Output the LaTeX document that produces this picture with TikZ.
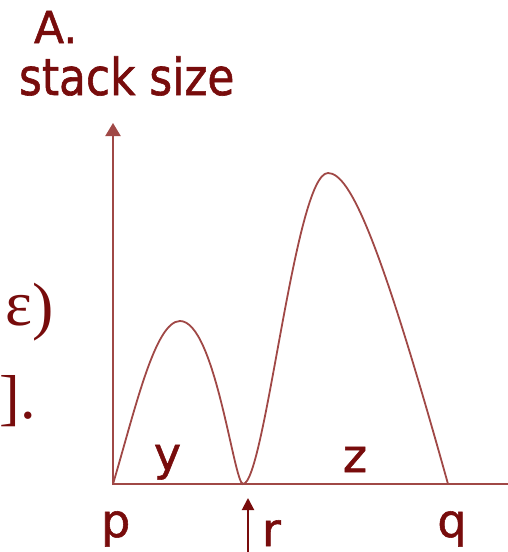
\documentclass[tikz,border=0pt]{standalone}
\usepackage{fontspec}
\setmainfont[FakeBold=1.2]{DejaVu Sans}
\newfontfamily\serifgr{Liberation Serif}
\usetikzlibrary{arrows.meta}
\definecolor{axiscol}{RGB}{160,72,70}
\definecolor{txtcol}{RGB}{120,12,12}
\tikzset{
  lbl/.style={inner sep=0pt, outer sep=0pt, text=txtcol, anchor=base, font=\fontsize{46}{46}\selectfont},
  axisline/.style={draw=axiscol, line width=2pt},
  curveline/.style={draw=axiscol, line width=1.8pt}
}
\begin{document}
\begin{tikzpicture}[x=1pt,y=-1pt]
\useasboundingbox (0,0) rectangle (508,552);
% titles
\node[lbl, anchor=base west, font=\fontsize{44}{44}\selectfont] (title) at (34,43) {A.};
\node[lbl, anchor=base west, xscale=0.86, font=\fontsize{51}{51}\selectfont] (ylab) at (19,95) {stack size};
% partial text on the left
\node[lbl, font=\serifgr\fontsize{64}{64}\selectfont] (eps) at (19,325) {ε};
\node[lbl, font=\serifgr\fontsize{64}{64}\selectfont] (paren) at (43,327) {)};
\node[lbl, anchor=base east, font=\serifgr\fontsize{62}{62}\selectfont] (brk) at (36,418) {].};
% axes
\coordinate (p0) at (113,484);
\coordinate (ytop) at (113,123);
\coordinate (xend) at (508,484);
\draw[axisline, -{Triangle[width=15pt,length=13pt]}] (113,485) -- (ytop);
\draw[axisline] (p0) -- (xend);
% curve
\coordinate (pk1) at (180,321);
\coordinate (tr) at (243,484);
\coordinate (pk2) at (328,173);
\coordinate (qe) at (448,484);
\draw[curveline] (p0) .. controls (135,410) and (155,321) .. (pk1)
  .. controls (215,321) and (234,484) .. (tr)
  .. controls (265,484) and (295,173) .. (pk2)
  .. controls (350,173) and (380,240) .. (qe);
% labels
\node[lbl] (ly) at (167.5,470) {y};
\node[lbl] (lz) at (355,472) {z};
\node[lbl] (lp) at (115.7,537) {p};
\node[lbl] (lq) at (452,537) {q};
\node[lbl] (lr) at (271.5,546) {r};
% r arrow
\coordinate (rbot) at (248,552);
\coordinate (rtop) at (248,498);
\draw[draw=txtcol, line width=2pt, -{Triangle[width=12pt,length=12pt]}] (rbot) -- (rtop);
\end{tikzpicture}
\end{document}
